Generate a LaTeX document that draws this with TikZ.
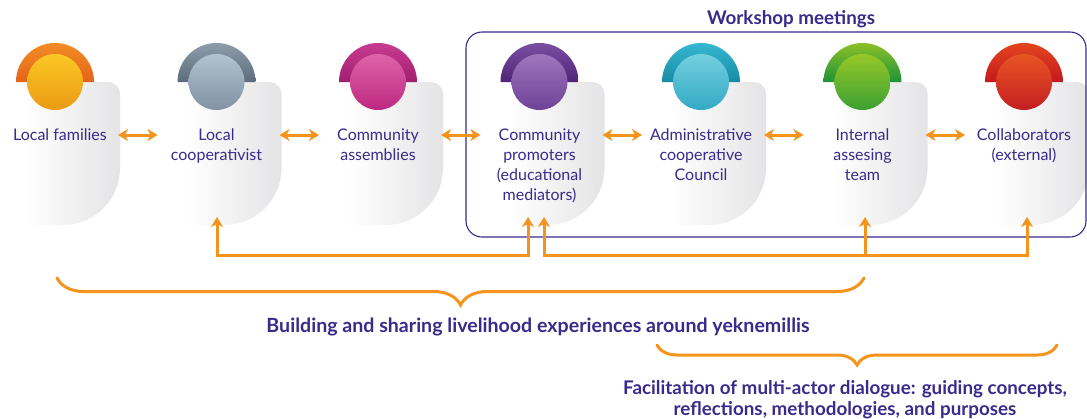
\documentclass[tikz,border=0pt]{standalone}
\usepackage{fontspec}
\setmainfont{Lato}
\usetikzlibrary{arrows.meta,decorations.pathreplacing}
\definecolor{txt}{RGB}{58,42,140}
\definecolor{org}{RGB}{245,148,28}
\definecolor{cardgray}{RGB}{228,228,230}
% dome / circle colours
\definecolor{d1a}{RGB}{242,140,36}\definecolor{d1b}{RGB}{228,100,24}
\definecolor{c1a}{RGB}{250,200,36}\definecolor{c1b}{RGB}{236,154,20}
\definecolor{d2a}{RGB}{142,156,170}\definecolor{d2b}{RGB}{92,108,124}
\definecolor{c2a}{RGB}{178,194,208}\definecolor{c2b}{RGB}{128,146,164}
\definecolor{d3a}{RGB}{200,60,144}\definecolor{d3b}{RGB}{160,30,112}
\definecolor{c3a}{RGB}{222,100,170}\definecolor{c3b}{RGB}{190,40,128}
\definecolor{d4a}{RGB}{122,78,160}\definecolor{d4b}{RGB}{80,36,120}
\definecolor{c4a}{RGB}{158,118,190}\definecolor{c4b}{RGB}{110,66,150}
\definecolor{d5a}{RGB}{54,184,208}\definecolor{d5b}{RGB}{22,140,164}
\definecolor{c5a}{RGB}{116,206,224}\definecolor{c5b}{RGB}{50,170,196}
\definecolor{d6a}{RGB}{140,192,40}\definecolor{d6b}{RGB}{30,146,56}
\definecolor{c6a}{RGB}{150,200,40}\definecolor{c6b}{RGB}{60,160,50}
\definecolor{d7a}{RGB}{226,70,30}\definecolor{d7b}{RGB}{196,24,30}
\definecolor{c7a}{RGB}{232,86,36}\definecolor{c7b}{RGB}{196,30,34}
\tikzset{
  lbl/.style={anchor=north,align=center,inner sep=0pt,text=txt,font=\fontsize{16}{20}\selectfont},
  conn/.style={draw=org,line width=3pt},
  dbl/.style={conn,{Stealth[length=10pt,width=12pt,inset=3pt]}-{Stealth[length=10pt,width=12pt,inset=3pt]}},
  upa/.style={conn,-{Stealth[length=10pt,width=12pt,inset=3pt]}},
  bracestyle/.style={draw=org,line width=3pt,line cap=round,decorate},
  heading/.style={text=txt,font=\bfseries\fontsize{18.8}{21}\selectfont,inner sep=0pt,align=center},
  wbox/.style={draw=txt,line width=1.1pt,rounded corners=16pt}
}
\begin{document}
\begin{tikzpicture}[x=1pt,y=-1pt]
\useasboundingbox[fill=white] (0,0) rectangle (1087,418);
% cards
\foreach \c in {55,216.5,378,539.5,701,862.5,1024}{
  \shade[left color=white,right color=cardgray]
    (\c-30,82) -- (\c+53,82) arc[start angle=-90,end angle=0,radius=12]
    -- (\c+65,168) arc[start angle=0,end angle=90,radius=57]
    -- (\c-30,225) -- cycle;
}
% workshop box
\draw[wbox] (466,32) rectangle (1086,237);
\node[heading] (wt) at (791,19) {Workshop meetings};
% domes and circles
\foreach \i/\c in {1/55,2/216.5,3/378,4/539.5,5/701,6/862.5,7/1024}{
  \shade[top color=d\i a,bottom color=d\i b] (\c-39,82) arc[start angle=180,end angle=360,radius=39] -- cycle;
  \shade[top color=c\i a,bottom color=c\i b] (\c,82) circle[radius=28];
}
% labels
\node[lbl] (t1) at (60,129) {Local families};
\node[lbl] (t2) at (216.5,129) {Local\\cooperativist};
\node[lbl] (t3) at (378,129) {Community\\assemblies};
\node[lbl] (t4) at (539.5,129) {Community\\promoters\\(educational\\mediators)};
\node[lbl] (t5) at (701,129) {Administrative\\cooperative\\Council};
\node[lbl] (t6) at (862.5,129) {Internal\\assesing\\team};
\node[lbl] (t7) at (1024,129) {Collaborators\\(external)};
% horizontal double arrows
\foreach \i/\c in {1/55,2/216.5,3/378,4/539.5,5/701,6/862.5,7/1024}{
  \coordinate (r\i) at (\c+63,135);
  \coordinate (l\i) at (\c-59,135);
}
\draw[dbl] (r1) -- (l2);
\draw[dbl] (r2) -- (l3);
\draw[dbl] (r3) -- (l4);
\draw[dbl] (r4) -- (l5);
\draw[dbl] (r5) -- (l6);
\draw[dbl] (r6) -- (l7);
% bottom connectors
\coordinate (b2) at (217,217);
\coordinate (b4a) at (528,217);
\coordinate (b4b) at (544,217);
\coordinate (b6) at (865,217);
\coordinate (b7) at (1027,217);
\draw[dbl] (b2) -- (b2 |- 0,255) -- (b4a |- 0,255) -- (b4a);
\draw[dbl] (b4b) -- (b4b |- 0,255) -- (b7 |- 0,255) -- (b7);
\draw[upa] (b6 |- 0,255) -- (b6);
% braces
\coordinate (br1a) at (864,278);
\coordinate (br1b) at (57,278);
\draw[bracestyle,decoration={brace,amplitude=27pt}] (br1a) -- (br1b);
\node[heading,font=\bfseries\fontsize{19.6}{21}\selectfont] (bt1) at (538,327) {Building and sharing livelihood experiences around yeknemillis};
\coordinate (br2a) at (1057,345);
\coordinate (br2b) at (657,345);
\draw[bracestyle,decoration={brace,amplitude=20pt}] (br2a) -- (br2b);
\node[heading] (bt2) at (845,400) {Facilitation of multi-actor dialogue: guiding concepts,\\reflections, methodologies, and purposes};
\end{tikzpicture}
\end{document}
